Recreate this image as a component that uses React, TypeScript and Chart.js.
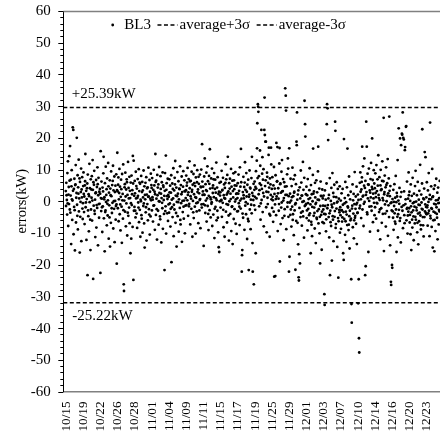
import React, { useEffect, useRef } from "react";
import { Chart, registerables } from "chart.js";
Chart.register(...registerables);

const FONT = "'Liberation Serif', 'Times New Roman', Times, serif";

const dateLabels = ["10/15","10/19","10/22","10/26","10/28","11/01","11/04","11/09","11/11","11/15","11/17","11/19","11/25","11/29","12/01","12/03","12/07","12/10","12/14","12/16","12/20","12/23"];
const dateTickIndex = [0,64,128,192,256,320,384,448,512,576,640,704,768,832,896,960,1024,1088,1152,1216,1280,1344];
const yTicks = [-60,-50,-40,-30,-20,-10,0,10,20,30,40,50,60];

const UPPER = 29.6;
const LOWER = -32.0;
const upperLabel = "+25.39kW";
const lowerLabel = "-25.22kW";
const seriesName = "BL3";
const upperName = "average+3\u03c3";
const lowerName = "average-3\u03c3";
const yTitle = "errors(kW)";

// BL3 errors (kW), in sample order (one line per date interval)
const errorsKW = [
  3.2,-1.5,5.8,1.9,0.4,-4.2,8.9,-0.7,12.6,-7.8,2.1,4.5,-0.9,14.2,6.5,-2.6,17.4,-3.6,1.8,6.8,-13.5,4.7,9.8,0.6,-5.9,0.2,23.3,3.3,22.5,-10.4,3.9,-1.8,7.1,-2.8,-15.5,5.1,5.3,11.4,-6.7,1.1,2.6,20.0,-1.1,-4.6,8.2,-8.9,4.4,2.4,13.1,-3.2,0.9,7.2,-16.2,6.1,-4.9,-0.2,2.9,10.3,-12.6,3.7,1.2,7.6,-2.3,-5.6,
  -0.6,4.8,9.1,2.3,-3.4,1.5,-7.2,5.0,6.3,14.9,-1.9,-0.4,3.3,-12.2,0.7,4.1,5.6,-23.3,8.4,-2.9,-4.7,2.2,-9.5,1.6,11.8,-0.3,4.1,-5.8,-15.4,6.9,-2.6,3.7,1.1,7.9,-6.1,0.2,13.0,3.6,-24.5,6.0,-1.4,5.2,9.6,-3.0,-4.0,0.5,-11.3,2.5,2.8,6.7,-8.3,-1.2,4.5,-2.1,10.7,5.4,-13.9,1.9,7.4,-0.9,-5.2,3.0,-0.8,3.9,
  2.4,-22.6,15.8,1.0,-3.1,6.2,0.8,-1.9,-9.7,4.3,-1.6,3.1,8.8,14.0,-5.4,0.6,1.3,-15.8,5.7,-3.4,-2.9,10.9,-0.2,2.0,3.8,-7.6,7.2,-0.8,-4.5,0.3,12.1,4.7,-11.8,2.7,-1.3,-5.1,6.6,-14.3,4.0,1.9,-6.8,9.4,1.6,-2.2,-3.7,5.1,-0.5,6.4,11.2,-8.6,3.4,0.0,-2.4,7.8,-12.9,2.9,0.1,4.9,-5.8,-1.5,8.5,-1.0,-19.7,3.5,
  15.3,3.1,-2.2,5.2,7.5,-6.3,0.6,2.6,10.2,-4.1,4.6,-1.0,-9.2,1.4,6.8,3.8,-1.7,-13.1,8.6,0.3,2.3,-5.5,11.6,-2.8,-26.2,-28.3,0.2,4.4,5.4,-3.3,9.0,1.5,-7.9,3.7,-0.7,6.9,6.0,-10.8,2.0,-3.6,12.4,-4.6,4.2,0.9,-2.0,7.7,-6.9,3.3,1.0,-16.4,5.9,-0.6,-11.8,8.1,-1.2,2.2,3.5,-8.1,14.3,5.6,-24.8,12.8,-3.0,1.7,
  -1.8,6.4,2.5,-3.0,-5.1,9.3,0.9,4.8,-3.9,4.0,-8.4,1.1,7.0,1.7,-0.4,-2.0,10.1,-6.6,3.2,5.9,-2.7,5.5,-11.2,0.5,0.0,8.0,-4.4,-5.5,2.9,6.1,-9.9,3.4,1.2,-1.5,9.7,-0.7,-7.0,4.7,-14.6,2.0,0.6,5.8,-3.5,-1.9,7.6,-12.4,2.1,4.1,-0.9,4.4,-6.0,1.4,10.6,1.5,-2.5,-4.2,6.7,-10.5,3.0,0.8,-4.8,8.7,0.3,5.1,
  4.2,-2.9,7.3,1.3,0.5,-6.4,3.6,-1.4,9.9,-1.3,5.0,3.0,-9.0,2.2,14.9,6.1,-4.3,6.5,0.8,-2.5,-12.1,8.3,1.9,4.3,-3.0,5.3,-7.4,0.0,10.8,2.6,-0.1,-4.8,-5.7,7.9,3.9,2.4,-13.0,1.0,6.0,-0.5,-2.2,9.1,-8.7,5.0,4.5,0.4,-4.0,1.7,-21.7,3.3,8.9,-3.1,-1.6,14.4,-10.2,3.6,5.7,1.6,-3.8,0.7,7.1,-6.2,2.0,-1.0,
  1.4,-3.6,6.9,2.8,-0.7,4.9,-8.0,-2.4,2.7,8.2,-19.2,0.5,-1.9,5.6,-5.0,3.9,0.9,10.4,-11.0,-1.1,3.4,-2.6,7.4,5.3,12.7,-6.8,1.8,-3.7,4.3,-14.3,-0.2,1.6,9.2,-4.7,2.4,-0.3,6.3,-9.6,0.6,4.0,3.8,-2.1,11.0,-5.9,-7.3,5.1,-0.6,2.2,7.8,-12.8,2.9,0.1,-3.4,4.6,9.5,-1.7,-5.5,0.2,6.6,3.2,-10.1,3.1,-1.4,1.0,
  3.5,8.1,-1.2,4.9,5.9,0.3,10.5,2.0,-4.6,2.8,7.0,-1.6,-0.8,12.6,4.1,6.3,-7.3,1.6,6.4,0.8,-2.4,9.3,3.0,3.6,-11.2,5.2,0.1,-3.5,8.6,-5.3,2.2,5.7,11.3,-1.7,4.8,1.3,-10.2,7.5,1.1,-0.6,-3.2,6.0,9.8,2.9,-0.4,3.7,-6.9,7.7,5.5,2.5,-2.9,0.4,8.4,0.7,-8.5,4.6,4.4,10.0,-1.0,-2.0,18.0,6.2,2.0,3.1,
  4.6,-0.9,-14.1,2.1,7.8,2.0,13.5,-1.3,-3.7,5.4,0.2,3.5,9.0,-6.4,3.2,0.9,11.0,-1.5,6.3,-4.0,-9.1,1.7,8.0,5.5,-2.8,16.4,4.0,1.2,-5.1,0.6,7.2,-0.8,-0.3,10.3,-7.8,4.2,2.6,5.0,-4.2,6.9,1.3,8.9,-11.6,-2.4,3.9,6.8,-1.8,2.7,0.9,12.2,-6.0,0.3,4.3,-3.0,7.6,-5.2,-9.8,2.3,-14.5,3.0,-16.0,5.8,0.0,1.8,
  2.8,-2.0,6.1,0.2,0.4,9.6,-4.9,3.4,3.6,-0.5,7.4,-2.7,-8.2,1.9,5.3,1.0,-11.2,4.2,0.8,5.8,11.7,-3.3,6.9,-0.9,2.1,-6.7,8.3,2.6,14.0,-1.1,3.1,-4.5,-12.4,5.7,0.0,4.0,7.1,-4.0,2.4,0.7,10.2,-9.4,4.6,-1.8,-1.6,6.5,-13.5,3.2,1.2,8.8,-5.6,6.6,3.8,-2.5,5.0,-0.1,9.2,-7.1,0.6,2.3,4.9,-10.3,2.5,-3.2,
  1.0,5.7,-3.1,2.4,8.4,-0.6,3.3,-1.7,-7.5,10.7,0.2,4.6,-2.3,16.5,6.0,0.8,-22.2,-17.0,-15.4,-3.9,2.9,-5.2,7.7,1.9,0.9,4.5,-9.0,5.9,12.3,-1.4,3.6,-0.3,-4.1,8.9,1.5,3.0,-11.9,5.2,-0.8,-5.6,6.8,-6.3,-21.7,1.4,2.1,9.7,-2.6,4.3,4.0,-8.8,0.5,-1.1,7.3,-3.8,14.0,2.6,-13.2,-22.2,1.7,0.4,5.5,-26.2,-1.3,3.6,
  6.2,1.4,-2.7,4.5,-16.4,9.5,4.0,0.9,12.8,16.7,24.6,7.3,30.6,29.8,28.2,2.2,7.9,-1.6,3.5,5.6,16.0,11.2,-5.8,-0.7,5.1,22.5,0.4,3.9,8.7,13.9,-3.4,6.8,2.6,10.1,-7.9,1.5,22.5,32.7,20.9,4.8,18.8,6.6,18.8,-1.9,3.0,-9.8,9.0,7.7,1.1,-0.9,5.8,2.9,14.6,16.9,4.3,-4.0,-11.2,7.2,-4.5,5.3,2.0,16.9,11.6,0.6,
  3.9,-2.1,7.6,1.4,0.3,-6.5,5.0,-3.3,10.8,-23.8,2.3,4.0,-1.0,-23.6,8.2,0.7,-4.4,18.4,1.5,6.2,6.3,17.1,-9.4,2.5,4.1,0.8,-3.0,-0.9,11.9,16.8,-19.0,5.4,5.6,-7.2,2.7,-2.0,9.3,-0.4,13.0,3.1,-5.3,3.2,7.0,0.2,-12.3,1.0,6.0,-4.6,-2.5,4.6,35.6,2.0,33.3,28.6,-8.8,4.7,2.0,8.5,-1.8,-0.4,13.5,10.3,-4.9,1.6,
  -22.2,16.7,-17.5,-0.4,2.4,-4.3,7.1,-2.6,0.2,-8.0,4.8,1.3,-1.7,10.6,-5.9,-4.1,1.6,6.9,-10.7,2.7,3.0,-2.9,8.2,-1.0,-21.6,-0.6,5.4,-6.2,18.8,17.7,28.0,0.5,-6.8,2.1,-13.6,3.4,-24.0,-25.0,-16.7,-2.1,4.4,-19.6,0.9,-5.0,9.7,-3.6,5.9,1.8,-7.7,1.8,-0.2,-3.2,12.4,-4.8,3.6,0.0,-11.5,7.4,31.7,-1.5,24.3,20.4,-1.2,2.2,
  -0.8,4.6,-5.3,-2.9,1.9,-9.2,7.0,-0.6,-2.4,0.7,-6.1,-4.4,3.5,10.4,-3.8,1.0,-1.0,-16.4,5.1,-6.5,-7.4,2.2,-11.0,-1.8,0.0,8.3,16.6,2.4,-4.6,3.1,-2.0,-3.7,-8.6,5.8,1.2,-0.9,-13.2,-0.5,6.6,-5.2,-5.6,2.8,-3.1,0.5,9.4,17.2,-7.0,-2.5,0.4,4.0,-10.1,-4.9,-19.6,-1.5,6.2,1.7,-4.3,1.6,-15.3,-3.3,3.7,-6.6,0.9,-1.4,
  -2.6,1.8,-6.9,-4.0,-29.3,-32.7,3.4,-1.5,-4.1,0.5,-9.5,-5.7,5.6,24.3,30.6,-2.2,29.3,-1.2,19.3,0.9,-5.0,2.0,-11.4,-3.8,7.3,-23.3,-3.0,-6.6,0.1,-7.8,4.2,-1.1,-18.7,-1.9,8.9,-4.7,-5.8,2.6,-12.6,1.4,-0.7,5.2,-4.9,-3.1,25.1,22.2,-8.4,-7.2,1.3,-2.3,6.0,-0.4,-14.4,-0.1,3.9,-5.3,-24.1,-6.3,0.8,-2.7,-3.5,4.7,-9.9,-1.9,
  -4.4,0.2,-8.7,-2.9,2.5,-2.8,-6.4,-5.1,3.9,-1.1,-16.4,-3.4,-18.5,19.6,-5.6,-0.7,1.0,-10.6,6.1,-6.3,-3.3,-0.3,-12.8,-4.2,4.4,-7.5,16.6,-1.6,-2.0,1.9,-9.1,-7.4,7.8,-4.7,-14.9,-3.0,0.6,-6.0,3.0,-5.5,-24.6,-32.4,-38.3,-2.3,-1.4,5.3,-8.2,0.3,-3.9,2.3,-11.7,-6.0,-0.9,9.2,-5.2,-4.6,-2.4,1.5,-7.1,-1.0,4.6,-13.5,-0.5,-3.7,
  -3.6,2.1,-32.2,0.4,-24.6,-43.2,-47.7,-2.2,5.8,-1.4,9.1,3.0,0.6,-5.3,3.7,6.1,7.5,17.2,-2.6,1.5,11.0,1.8,-7.8,-0.8,4.9,13.5,-0.2,4.2,-23.3,6.4,-20.5,2.0,25.1,2.9,17.2,-3.5,-4.1,8.7,0.9,5.3,-16.0,5.2,10.3,0.1,-1.7,3.4,-9.6,2.7,7.0,1.2,12.1,-1.6,-3.0,4.5,19.8,3.8,6.7,-6.6,2.4,0.9,9.8,-0.5,5.6,-4.4,
  4.1,-1.9,8.8,2.6,1.3,-5.5,11.4,-0.5,3.2,-0.7,6.9,4.9,-9.3,14.5,2.0,1.0,-3.4,7.6,0.4,-2.6,-12.0,5.0,9.9,3.5,-2.2,3.8,-6.8,6.4,12.6,1.0,-4.0,0.3,6.3,26.3,-15.7,2.2,2.9,8.1,-1.0,-3.9,4.4,-8.0,10.7,5.1,0.0,-3.1,5.7,1.8,13.3,-10.9,2.5,-1.3,7.2,-5.0,26.7,3.3,1.6,-13.9,4.8,-0.6,-25.4,-26.4,-0.4,-2.9,
  -20.1,-21.0,0.7,-3.2,-5.2,3.6,-9.0,-0.2,-1.5,5.4,-3.8,-6.4,1.1,-7.1,8.0,-2.6,-0.3,-16.0,2.6,1.5,-4.9,13.0,-11.4,-4.1,0.2,23.0,-2.7,-0.8,4.2,-6.2,19.8,-5.3,1.4,-13.0,17.7,2.9,-1.8,21.3,21.0,-3.0,28.0,-8.5,20.0,-1.3,19.5,3.1,-4.4,-6.9,16.1,17.1,-0.9,0.6,23.5,23.7,-6.0,-2.4,6.2,-2.1,-10.2,-4.5,0.8,-3.3,9.1,1.9,
  -2.2,3.0,-6.7,-4.3,0.1,-10.4,5.3,-1.6,-15.4,-3.5,1.7,-5.8,-8.3,7.4,-0.6,-2.9,-4.8,-12.3,2.4,-0.3,-1.7,-7.0,4.8,-4.9,9.6,-5.8,-0.1,-2.0,-2.9,1.9,-9.8,-6.8,6.1,-3.9,-13.6,-1.1,0.5,-6.3,3.3,-3.6,-1.2,11.5,-4.5,-7.5,-8.9,2.1,-0.4,-2.4,5.6,22.7,-2.6,-5.0,-7.6,0.9,-11.1,0.6,4.0,-5.0,15.5,-3.2,-1.0,13.9,-3.7,-1.8,
  1.2,-4.1,6.0,-1.9,-1.3,-7.7,3.4,-3.8,-0.2,8.9,-3.0,0.7,-11.0,2.0,24.8,-4.6,-5.4,0.6,4.7,-2.2,-8.1,-2.4,10.2,1.3,-14.6,1.5,-6.0,-3.3,3.9,-0.8,-15.8,-5.9,5.0,-3.6,-9.4,-1.0,0.3,7.1,-1.9,-4.0,-5.2,2.7,-12.0,0.4,4.3,-0.6,-7.3,-2.7,1.0,-3.2,6.4,-0.5,
];

const X_MIN = -9.3;
const X_MAX = 1395;

const decorPlugin = {
  id: "decor",
  afterDraw(chart: any) {
    const { ctx, chartArea: a, scales } = chart;
    const y = scales.y;
    const xs = scales.x;
    ctx.save();
    // top frame line
    ctx.strokeStyle = "#808080";
    ctx.lineWidth = 1.5;
    ctx.beginPath();
    ctx.moveTo(a.left, a.top + 0.5);
    ctx.lineTo(a.right, a.top + 0.5);
    ctx.stroke();
    // y major/minor tick marks
    ctx.strokeStyle = "#000";
    ctx.lineWidth = 1;
    for (let v = -60; v <= 60; v += 2) {
      const py = Math.round(y.getPixelForValue(v)) + 0.5;
      const len = v % 10 === 0 ? 5 : 3;
      ctx.beginPath();
      ctx.moveTo(a.left - len, py);
      ctx.lineTo(a.left, py);
      ctx.stroke();
    }
    ctx.fillStyle = "#000";
    // y tick labels
    ctx.font = `15px ${FONT}`;
    ctx.textAlign = "right";
    ctx.textBaseline = "middle";
    yTicks.forEach((v) => {
      ctx.fillText(String(v), a.left - 12.6, y.getPixelForValue(v) + 0.5);
    });
    // x tick labels (rotated)
    ctx.font = `13.2px ${FONT}`;
    dateTickIndex.forEach((idx, i) => {
      const px = xs.getPixelForValue(idx);
      ctx.save();
      ctx.translate(px, a.bottom + 10);
      ctx.rotate(-Math.PI / 2);
      ctx.textAlign = "right";
      ctx.textBaseline = "middle";
      ctx.fillText(dateLabels[i], 0, 0.5);
      ctx.restore();
    });
    // annotations
    ctx.font = `15px ${FONT}`;
    ctx.textAlign = "left";
    ctx.textBaseline = "alphabetic";
    ctx.fillText(upperLabel, a.left + 8.5, y.getPixelForValue(UPPER) - 9);
    ctx.fillText(lowerLabel, a.left + 9, y.getPixelForValue(LOWER) + 17.5);
    // legend
    const ly = 25;
    let x = 112.7;
    ctx.beginPath();
    ctx.arc(x, ly, 1.4, 0, Math.PI * 2);
    ctx.fill();
    x += 11.6;
    ctx.textBaseline = "middle";
    ctx.fillText(seriesName, x, ly + 0.5);
    x += ctx.measureText(seriesName).width + 6.5;
    ctx.lineWidth = 1.5;
    ctx.setLineDash([4, 2.5]);
    ctx.beginPath();
    ctx.moveTo(x, ly);
    ctx.lineTo(x + 20, ly);
    ctx.stroke();
    x += 22;
    ctx.fillText(upperName, x, ly + 0.5);
    x += ctx.measureText(upperName).width + 6.5;
    ctx.beginPath();
    ctx.moveTo(x, ly);
    ctx.lineTo(x + 20, ly);
    ctx.stroke();
    x += 22;
    ctx.setLineDash([]);
    ctx.fillText(lowerName, x, ly + 0.5);
    // y title (rotated)
    ctx.save();
    ctx.translate(26, (a.top + a.bottom) / 2);
    ctx.rotate(-Math.PI / 2);
    ctx.textAlign = "center";
    ctx.textBaseline = "alphabetic";
    ctx.font = `14.5px ${FONT}`;
    ctx.fillText(yTitle, 0, 0);
    ctx.restore();
    ctx.restore();
  },
};

export default function App() {
  const ref = useRef<HTMLCanvasElement | null>(null);
  useEffect(() => {
    if (!ref.current) return;
    const chart = new Chart(ref.current, {
      type: "scatter",
      data: {
        datasets: [
          {
            label: seriesName,
            data: errorsKW.map((v, i) => ({ x: i, y: v })),
            pointRadius: 1.4,
            pointHoverRadius: 1.4,
            pointBorderWidth: 0,
            pointHoverBorderWidth: 0,
            backgroundColor: "#000",
            borderColor: "#000",
            showLine: false,
          },
          {
            label: upperName,
            data: [{ x: X_MIN, y: UPPER }, { x: X_MAX, y: UPPER }],
            showLine: true,
            borderColor: "#000",
            borderWidth: 1.5,
            borderDash: [4, 2.5],
            pointRadius: 0,
          },
          {
            label: lowerName,
            data: [{ x: X_MIN, y: LOWER }, { x: X_MAX, y: LOWER }],
            showLine: true,
            borderColor: "#000",
            borderWidth: 1.5,
            borderDash: [4, 2.5],
            pointRadius: 0,
          },
        ],
      },
      options: {
        animation: false,
        responsive: false,
        devicePixelRatio: 1,
        layout: { autoPadding: false, padding: { top: 11, left: 0, right: 0, bottom: 0 } },
        plugins: { legend: { display: false }, tooltip: { enabled: false } },
        scales: {
          x: {
            type: "linear",
            min: X_MIN,
            max: X_MAX,
            afterFit: (s: any) => {
              s.height = 44.5;
              s.paddingLeft = 0;
              s.paddingRight = 0;
            },
            grid: { display: false, drawTicks: false },
            border: { display: true, color: "#808080", width: 1.5 },
            ticks: { display: false },
          },
          y: {
            min: -60,
            max: 60,
            afterFit: (s: any) => {
              s.width = 63.3;
              s.paddingTop = 0;
              s.paddingBottom = 0;
            },
            grid: { display: false, drawTicks: false },
            border: { display: true, color: "#000", width: 1 },
            ticks: { display: false },
          },
        },
      },
      plugins: [decorPlugin],
    });
    return () => chart.destroy();
  }, []);
  return (
    <div style={{ position: "fixed", left: 0, top: 0, width: 440, height: 436 }}>
      <canvas ref={ref} width={440} height={436} style={{ display: "block", width: 440, height: 436 }} />
    </div>
  );
}
